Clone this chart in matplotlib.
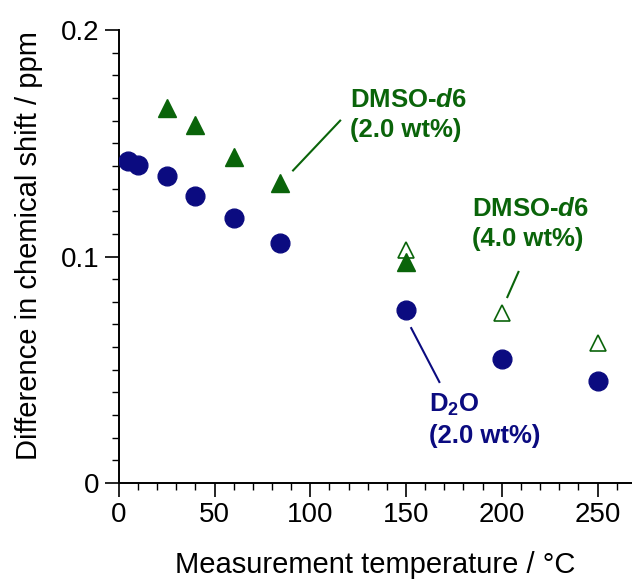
import matplotlib
matplotlib.use("Agg")
import matplotlib.pyplot as plt
from matplotlib.ticker import MultipleLocator

plt.rcParams["font.family"] = ["Liberation Sans", "DejaVu Sans"]
plt.rcParams["mathtext.fontset"] = "custom"
plt.rcParams["mathtext.rm"] = "Liberation Sans:bold"
plt.rcParams["mathtext.it"] = "Liberation Sans:bold:italic"

NAVY, GREEN = "#0b0b80", "#0a640a"

# D2O (2.0 wt%)
d2o_t = [5, 10, 25, 40, 60, 84, 150, 200, 250]
d2o_v = [0.142, 0.1405, 0.1355, 0.1267, 0.117, 0.106, 0.0764, 0.0547, 0.045]
# DMSO-d6 (2.0 wt%)
dm2_t = [25, 40, 60, 84, 150]
dm2_v = [0.1656, 0.158, 0.144, 0.1325, 0.0976]
# DMSO-d6 (4.0 wt%)
dm4_t = [150, 200, 250]
dm4_v = [0.103, 0.075, 0.062]

fig = plt.figure(figsize=(6.32, 5.83), dpi=100)
ax = fig.add_axes([0.188, 0.1715, 0.812, 0.777])

ax.plot(d2o_t, d2o_v, "o", ms=13.5, color=NAVY, mec=NAVY, zorder=3)
ax.plot(dm2_t, dm2_v, "^", ms=13, color=GREEN, mec=GREEN, zorder=3)
ax.plot(dm4_t, dm4_v, "^", ms=11.5, mfc="white", mec=GREEN, mew=1.2, zorder=2)

ax.set_xlim(0, 268)
ax.set_ylim(0, 0.2)
ax.set_xticks([0, 50, 100, 150, 200, 250])
ax.set_yticks([0, 0.1, 0.2])
ax.set_yticklabels(["0", "0.1", "0.2"])
ax.xaxis.set_minor_locator(MultipleLocator(10))
ax.yaxis.set_minor_locator(MultipleLocator(0.01))
ax.tick_params(which="major", direction="out", length=10, width=1.2, labelsize=20, pad=4)
ax.tick_params(which="minor", direction="out", length=5, width=1)
for s in ["top", "right"]:
    ax.spines[s].set_visible(False)
for s in ["left", "bottom"]:
    ax.spines[s].set_linewidth(1.4)

ax.set_xlabel("Measurement temperature / °C", fontsize=21, labelpad=16)
ax.set_ylabel("Difference in chemical shift / ppm", fontsize=21)
ax.yaxis.set_label_coords(-0.148, 0.525)

lab = dict(fontsize=18.5, fontweight="bold", ha="left", va="center", linespacing=1.3)
ax.text(120.5, 0.1625, "DMSO-$d$6\n(2.0 wt%)", color=GREEN, **lab)
ax.plot([91, 115.6], [0.138, 0.160], color=GREEN, lw=1.5)
ax.text(184.5, 0.1145, "DMSO-$d$6\n(4.0 wt%)", color=GREEN, **lab)
ax.plot([202.9, 208.7], [0.0821, 0.0932], color=GREEN, lw=1.5)
ax.text(162, 0.028, "D$_2$O\n(2.0 wt%)", color=NAVY, **lab)
ax.plot([152.7, 167.4], [0.0684, 0.0446], color=NAVY, lw=1.5)

fig.savefig("out.png", dpi=100)
